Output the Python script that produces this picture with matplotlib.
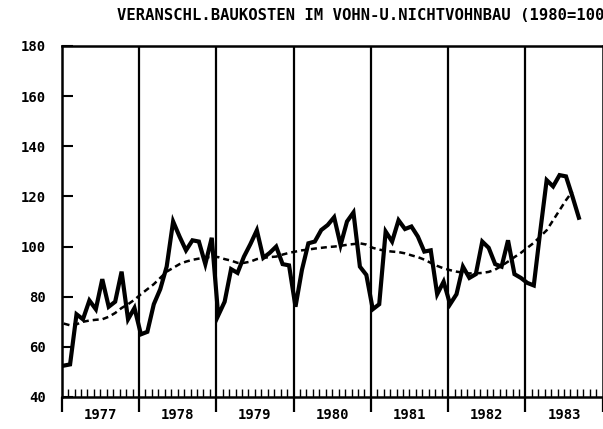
import numpy as np
import matplotlib
matplotlib.use('Agg')
import matplotlib.pyplot as plt

# Daten (monatlich, Jan 1977 - Sep 1983)
years = [1977, 1978, 1979, 1980, 1981, 1982, 1983]
titel = 'VERANSCHL.BAUKOSTEN IM VOHN-U.NICHTVOHNBAU (1980=100'

werte_1977 = [52.5, 53, 73, 71, 78.5, 75, 87, 76, 78, 90, 71, 75.5]
werte_1978 = [65, 66, 77, 83, 92, 110, 104, 98.5, 102.5, 102, 93, 103.5]
werte_1979 = [72.5, 78, 91, 89.5, 96, 101, 106.5, 95.5, 97.5, 100, 93, 92.5]
werte_1980 = [76, 90.7, 101.3, 102, 106.6, 108.6, 111.7, 100.6, 110, 113.6, 92, 88.7]
werte_1981 = [75, 77, 106, 102, 110.5, 107, 108, 104, 98, 98.5, 81, 86]
werte_1982 = [77, 81, 92, 87.5, 89, 102, 99.5, 93, 92, 102.5, 89, 87.5]
werte_1983 = [85.5, 84.5, 106, 126.5, 124, 128.5, 128, 120, 111.5]

# Trend (geglaettet), bis Aug 1983
trend = [69.3, 68.6, 69.0, 70.0, 70.5, 70.8, 71.0, 72.0, 73.5, 75.5, 77.0, 78.8,
         81.0, 83.0, 85.0, 87.5, 90.0, 91.5, 93.0, 94.0, 94.7, 95.2, 95.6, 95.9,
         95.8, 95.0, 94.4, 93.5, 93.5, 94.0, 95.0, 95.5, 95.8, 96.0, 96.8, 97.5,
         98.0, 98.5, 98.8, 99.2, 99.5, 99.8, 100.0, 100.3, 100.7, 101.0, 101.3, 100.8,
         99.5, 98.8, 98.3, 98.0, 97.8, 97.3, 96.5, 95.8, 94.8, 93.5, 92.3, 91.3,
         90.6, 90.0, 89.6, 89.3, 89.3, 89.5, 89.9, 90.8, 92.3, 94.0, 95.8, 97.5,
         99.5, 101.5, 104.0, 106.5, 110.5, 114.5, 118.5, 122.0]

werte = werte_1977 + werte_1978 + werte_1979 + werte_1980 + werte_1981 + werte_1982 + werte_1983
x_werte = np.arange(len(werte)) + 0.3
x_trend = np.arange(len(trend)) + 0.3
n_monate = 12 * len(years)

plt.rcParams['font.family'] = ['DejaVu Sans Mono']
plt.rcParams['font.weight'] = 'bold'

fig = plt.figure(figsize=(6.03, 4.29), dpi=100)
ax = fig.add_axes([61.7 / 603, 32 / 429, 541 / 603, 351 / 429])

ax.plot(x_werte, werte, color='black', lw=3, solid_joinstyle='miter', zorder=3)
ax.plot(x_trend, trend, color='black', lw=1.8, dashes=(2.4, 1.6), zorder=2)

for i in range(1, len(years)):
    ax.axvline(12 * i, color='black', lw=1.6, zorder=1)

ax.set_xlim(0, n_monate)
ax.set_ylim(40, 180)

ax.set_yticks(np.arange(40, 181, 20))
ax.tick_params(axis='y', direction='in', length=8, width=1.5, pad=11.5, labelsize=10)

ax.set_xticks(np.arange(0, n_monate + 1, 12))
ax.set_xticks(np.arange(0, n_monate + 1, 1), minor=True)
ax.set_xticklabels([])
ax.tick_params(axis='x', which='major', direction='out', length=11, width=1.6)
ax.tick_params(axis='x', which='minor', direction='in', length=6, width=1.0)

for i, y in enumerate(years):
    ax.text(12 * i + 6, -0.05, str(y), transform=ax.get_xaxis_transform(),
            ha='center', va='center', fontsize=10, fontweight='bold')

for s in ax.spines.values():
    s.set_linewidth(1.8)

fig.text(117 / 603, 1 - 16 / 429, titel, ha='left', va='center',
         fontsize=11.2, fontweight='bold')

plt.savefig('out.png', dpi=100)
